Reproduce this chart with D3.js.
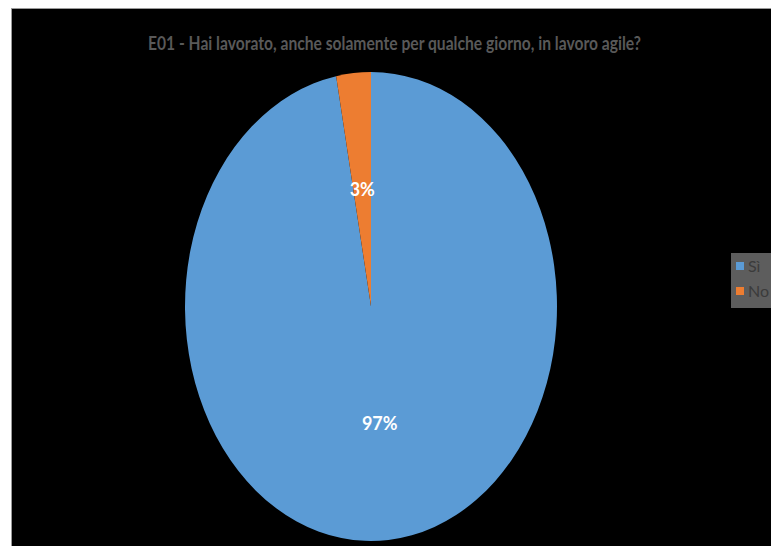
<!DOCTYPE html>
<html>
<head>
<meta charset="utf-8">
<script src="https://cdn.jsdelivr.net/npm/d3@7"></script>
<style>
  html, body { margin: 0; padding: 0; background: #ffffff; }
  svg { display: block; }
</style>
</head>
<body>
<svg id="chart" width="771" height="546"></svg>
<script>
// Risposte alla domanda E01 (percentuali)
const categories = ["Sì", "No"];
const values = [97, 3];
const colors = ["#5B9BD5", "#ED7D31"];
const title = "E01 - Hai lavorato, anche solamente per qualche giorno, in lavoro agile?";

const svg = d3.select("#chart");

// chart area frame
svg.append("rect")
  .attr("x", 11.5).attr("y", 8.5)
  .attr("width", 772).attr("height", 545)
  .attr("fill", "#000000")
  .attr("stroke", "#9a9a9a")
  .attr("stroke-width", 1);

// title (condensed to fit its width)
svg.append("text")
  .attr("x", 148).attr("y", 50)
  .attr("textLength", 493)
  .attr("lengthAdjust", "spacingAndGlyphs")
  .attr("font-family", "Lato, 'Open Sans', sans-serif")
  .attr("font-weight", "bold")
  .attr("font-size", 19)
  .attr("fill", "#595959")
  .text(title);

// pie drawn on a unit circle and stretched to the plot ellipse
const cx = 371, cy = 306.5, rx = 186, ry = 234.5;
const r = 100;
const pie = d3.pie().sort(null).value(d => d)(values);
const arc = d3.arc().innerRadius(0).outerRadius(r);

const g = svg.append("g")
  .attr("transform", `translate(${cx},${cy}) scale(${rx / r},${ry / r})`);

g.selectAll("path.slice")
  .data(pie)
  .join("path")
  .attr("class", "slice")
  .attr("d", arc)
  .attr("fill", (d, i) => colors[i]);

// percentage labels at the slice centroids
const total = d3.sum(values);
svg.selectAll("text.pct")
  .data(pie)
  .join("text")
  .attr("class", "pct")
  .attr("x", d => cx + arc.centroid(d)[0] * rx / r)
  .attr("y", d => cy + arc.centroid(d)[1] * ry / r)
  .attr("dy", "0.35em")
  .attr("text-anchor", "middle")
  .attr("font-family", "Lato, 'Open Sans', sans-serif")
  .attr("font-weight", "bold")
  .attr("font-size", 18)
  .attr("fill", "#ffffff")
  .text(d => Math.round(d.data / total * 100) + "%");

// legend
const lg = svg.append("g").attr("transform", "translate(731,253)");
lg.append("rect")
  .attr("width", 45).attr("height", 55)
  .attr("fill", "#5d5d5d");
const items = lg.selectAll("g.item")
  .data(categories)
  .join("g")
  .attr("class", "item")
  .attr("transform", (d, i) => `translate(5,${9 + i * 25})`);
items.append("rect")
  .attr("width", 8).attr("height", 8)
  .attr("fill", (d, i) => colors[i]);
items.append("text")
  .attr("x", 12).attr("y", 4)
  .attr("dy", "0.36em")
  .attr("font-family", "Lato, 'Open Sans', sans-serif")
  .attr("font-size", 16)
  .attr("fill", "#3b3b3b")
  .text(d => d);
</script>
</body>
</html>
